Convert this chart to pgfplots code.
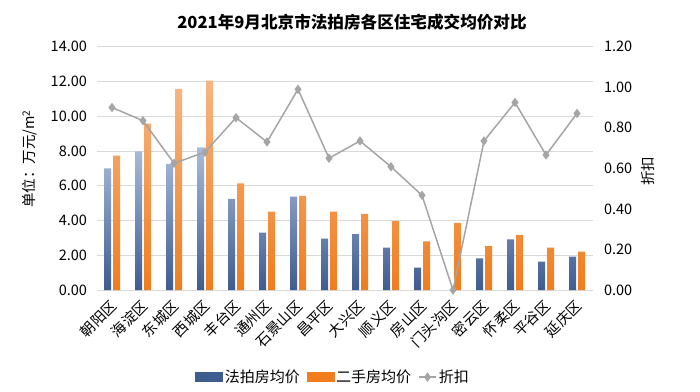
\documentclass[border=0pt]{standalone}
\usepackage{fontspec}
\setmainfont{Noto Sans CJK SC}
\usepackage{pgfplots}
\pgfplotsset{compat=1.18}
\definecolor{blueD}{HTML}{3E5C8E}
\definecolor{blueL}{HTML}{A9BCDC}
\definecolor{orangeD}{HTML}{F07D1E}
\definecolor{orangeL}{HTML}{F6B683}
\definecolor{lineG}{HTML}{A5A5A5}
\definecolor{gridG}{HTML}{D9D9D9}
\begin{document}
\begin{tikzpicture}
\pgfplotsset{
  common/.style={
    width=496pt, height=243.3pt, scale only axis,
    xmin=-0.5, xmax=15.5,
    /pgf/number format/assume math mode=true,
    tick label style={font=\fontsize{14.5}{16}\selectfont},
    /pgf/number format/.cd, fixed, fixed zerofill, precision=2, /pgfplots/.cd,
    major tick length=0pt,
  }
}
\begin{axis}[common,
  ymin=0, ymax=14, ytick={0,2,...,14},
  axis x line*=bottom, axis y line*=left,
  x axis line style={draw=gridG, line width=0.8pt},
  y axis line style={draw=none},
  ymajorgrids, grid style={draw=gridG, line width=0.8pt},
  xtick={0,...,15},
  xticklabels={朝阳区,海淀区,东城区,西城区,丰台区,通州区,石景山区,昌平区,大兴区,顺义区,房山区,门头沟区,密云区,怀柔区,平谷区,延庆区},
  x tick label style={xshift=-3pt, yshift=-7pt, rotate=45, anchor=north east, inner sep=1pt, font=\fontsize{14.5}{16}\selectfont},
  y tick label style={xshift=-6pt},
]
\addplot[ybar, bar width=7pt, bar shift=-4.5pt, draw=none, bottom color=blueD, top color=blueL] coordinates {
(0,7.00) (1,7.97) (2,7.26) (3,8.21) (4,5.24) (5,3.30) (6,5.37) (7,2.96) (8,3.22) (9,2.44) (10,1.29) (12,1.82) (13,2.92) (14,1.63) (15,1.92)};
\addplot[ybar, bar width=7pt, bar shift=4.5pt, draw=none, bottom color=orangeD, top color=orangeL] coordinates {
(0,7.73) (1,9.58) (2,11.57) (3,12.05) (4,6.14) (5,4.51) (6,5.41) (7,4.51) (8,4.38) (9,3.97) (10,2.80) (11,3.86) (12,2.53) (13,3.17) (14,2.44) (15,2.21)};
\end{axis}
\begin{axis}[common,
  ymin=0, ymax=1.2, ytick={0,0.2,...,1.2},
  axis x line=none, axis y line*=right,
  axis line style={draw=none},
  yticklabel style={xshift=8pt, /pgf/number format/.cd, fixed, fixed zerofill, precision=2},
  legend style={at={(0.477,-0.358)}, anchor=center, draw=none, fill=none,
    legend columns=3, font=\fontsize{15}{17}\selectfont,
    /tikz/every even column/.append style={column sep=5pt}},
]
\addlegendimage{legend image code/.code={\fill[blueD] (0pt,-4.5pt) rectangle (27pt,4.5pt);}}
\addlegendentry{法拍房均价}
\addlegendimage{legend image code/.code={\fill[orangeD] (0pt,-4.5pt) rectangle (27pt,4.5pt);}}
\addlegendentry{二手房均价}
\addplot[color=lineG, line width=1.5pt, mark=diamond*, mark size=3.5pt,
  mark options={fill=lineG, draw=lineG}] coordinates {
(0,0.90) (1,0.835) (2,0.625) (3,0.68) (4,0.85) (5,0.73) (6,0.99) (7,0.65) (8,0.735) (9,0.608) (10,0.467) (11,0) (12,0.735) (13,0.925) (14,0.666) (15,0.871)};
\addlegendentry{折扣}
\end{axis}
\node[font=\bfseries\fontsize{16.6}{18}\selectfont] at (255.5pt,268pt) {2021年9月北京市法拍房各区住宅成交均价对比};
\node[rotate=90, font=\fontsize{14.5}{16}\selectfont] at (-66.5pt,131pt) {单位：万元/m\textsuperscript{2}};
\node[rotate=90, font=\fontsize{14.5}{16}\selectfont] at (551.5pt,119pt) {折扣};
\pgfresetboundingbox
\path[use as bounding box] (-96.5pt,-101pt) rectangle (603.5pt,290pt);
\end{tikzpicture}
\end{document}
